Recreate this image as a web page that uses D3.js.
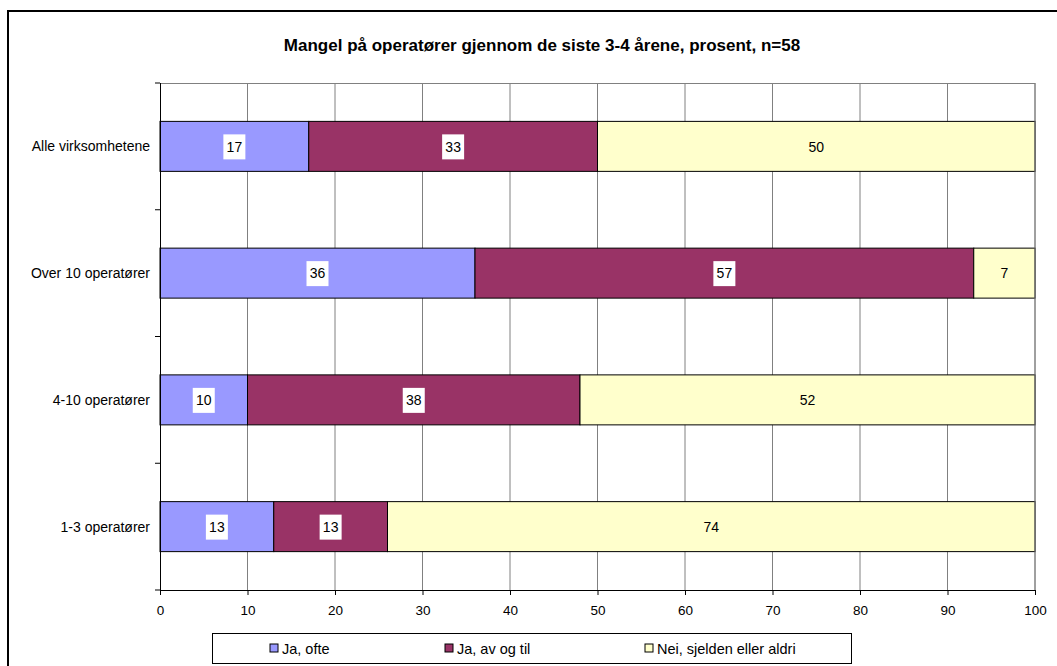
<!DOCTYPE html>
<html>
<head>
<meta charset="utf-8">
<script src="https://cdn.jsdelivr.net/npm/d3@7"></script>
<style>
  body { margin: 0; background: #fff; }
  text { font-family: Arial, "Liberation Sans", sans-serif; }
</style>
</head>
<body>
<div id="chart"></div>
<script>
var categories = ["Alle virksomhetene", "Over 10 operatører", "4-10 operatører", "1-3 operatører"];
var seriesNames = ["Ja, ofte", "Ja, av og til", "Nei, sjelden eller aldri"];
var jaOfte = [17, 36, 10, 13];
var jaAvOgTil = [33, 57, 38, 13];
var neiSjelden = [50, 7, 52, 74];
var xTicks = [0, 10, 20, 30, 40, 50, 60, 70, 80, 90, 100];
var colors = ["#9999ff", "#993366", "#ffffcc"];

var W = 1057, H = 666;
var margin = {top: 83, right: 22, bottom: 76, left: 160},
    width = W - margin.left - margin.right,
    height = H - margin.top - margin.bottom;

var svg = d3.select("#chart").append("svg")
    .attr("width", W).attr("height", H);

// outer frame (runs off the right and bottom edges)
svg.append("rect")
    .attr("x", 8).attr("y", 11)
    .attr("width", W + 20).attr("height", H + 20)
    .attr("fill", "none").attr("stroke", "#000").attr("stroke-width", 2);

svg.append("text")
    .attr("x", 542).attr("y", 51)
    .attr("text-anchor", "middle")
    .style("font-size", "17px").style("font-weight", "bold")
    .text("Mangel på operatører gjennom de siste 3-4 årene, prosent, n=58");

var x = d3.scaleLinear().domain([0, 100]).range([0, width]);
var y = d3.scaleBand().domain(categories).range([0, height])
    .paddingInner(0.6056).paddingOuter(0.3028);

var g = svg.append("g")
    .attr("transform", "translate(" + margin.left + "," + margin.top + ")");

// gridlines
g.selectAll(".grid").data(xTicks.slice(1)).enter().append("line")
    .attr("x1", function (d) { return x(d); })
    .attr("x2", function (d) { return x(d); })
    .attr("y1", 0).attr("y2", height)
    .attr("stroke", "#808080").attr("stroke-width", 1);
g.append("line")
    .attr("x1", 0).attr("x2", width).attr("y1", 0.5).attr("y2", 0.5)
    .attr("stroke", "#808080");

// stacked data
var rows = categories.map(function (c, i) {
    return {cat: c, vals: [jaOfte[i], jaAvOgTil[i], neiSjelden[i]]};
});
var segs = [];
rows.forEach(function (r) {
    var acc = 0;
    r.vals.forEach(function (v, k) {
        segs.push({cat: r.cat, k: k, x0: acc, x1: acc + v, v: v});
        acc += v;
    });
});

g.selectAll(".bar").data(segs).enter().append("rect")
    .attr("x", function (d) { return x(d.x0); })
    .attr("y", function (d) { return y(d.cat); })
    .attr("width", function (d) { return x(d.x1) - x(d.x0); })
    .attr("height", y.bandwidth())
    .attr("fill", function (d) { return colors[d.k]; })
    .attr("stroke", "#000").attr("stroke-width", 1);

// value labels with white box
var lab = g.selectAll(".lab").data(segs).enter().append("g")
    .attr("transform", function (d) {
        return "translate(" + (x(d.x0) + (x(d.x1) - x(d.x0)) / 2) + "," + (y(d.cat) + y.bandwidth() / 2) + ")";
    });
lab.append("rect")
    .attr("x", function (d) { return String(d.v).length > 1 ? -11 : -7; })
    .attr("y", -12)
    .attr("width", function (d) { return String(d.v).length > 1 ? 22 : 14; })
    .attr("height", 25)
    .attr("fill", function (d) { return d.k === 2 ? colors[2] : "#fff"; });
lab.append("text")
    .attr("text-anchor", "middle").attr("dy", "0.38em")
    .style("font-size", "14px")
    .text(function (d) { return d.v; });

// x axis
var xAxis = g.append("g")
    .attr("transform", "translate(0," + height + ")")
    .call(d3.axisBottom(x).tickValues(xTicks).tickSize(5).tickPadding(10));
xAxis.select(".domain").attr("stroke", "#000");
xAxis.selectAll("text").style("font-size", "13.5px").attr("fill", "#000");

// y axis: line with ticks between categories, labels centred on bars
var yEdges = d3.range(categories.length + 1).map(function (i) { return i * height / categories.length; });
g.append("line").attr("x1", 0.5).attr("x2", 0.5).attr("y1", 0).attr("y2", height)
    .attr("stroke", "#000");
g.selectAll(".ytick").data(yEdges).enter().append("line")
    .attr("x1", -5).attr("x2", 0)
    .attr("y1", function (d) { return d; }).attr("y2", function (d) { return d; })
    .attr("stroke", "#000");
g.selectAll(".ylab").data(categories).enter().append("text")
    .attr("x", -10)
    .attr("y", function (d) { return y(d) + y.bandwidth() / 2; })
    .attr("dy", "0.35em").attr("text-anchor", "end")
    .style("font-size", "14px")
    .text(function (d) { return d; });

// plot right edge
g.append("line").attr("x1", width).attr("x2", width).attr("y1", 0).attr("y2", height)
    .attr("stroke", "#808080");

// legend
var legend = svg.append("g").attr("transform", "translate(212,633)");
legend.append("rect")
    .attr("x", 0.5).attr("y", 0.5).attr("width", 639).attr("height", 30)
    .attr("fill", "#fff").attr("stroke", "#000");
var legX = [58, 233, 433];
var items = legend.selectAll(".li").data(seriesNames).enter().append("g")
    .attr("transform", function (d, i) { return "translate(" + legX[i] + ",16)"; });
items.append("rect")
    .attr("x", 0).attr("y", -5).attr("width", 8).attr("height", 8)
    .attr("fill", function (d, i) { return colors[i]; })
    .attr("stroke", "#000");
items.append("text")
    .attr("x", 12).attr("dy", "0.35em")
    .style("font-size", "14.5px")
    .text(function (d) { return d; });
</script>
</body>
</html>
